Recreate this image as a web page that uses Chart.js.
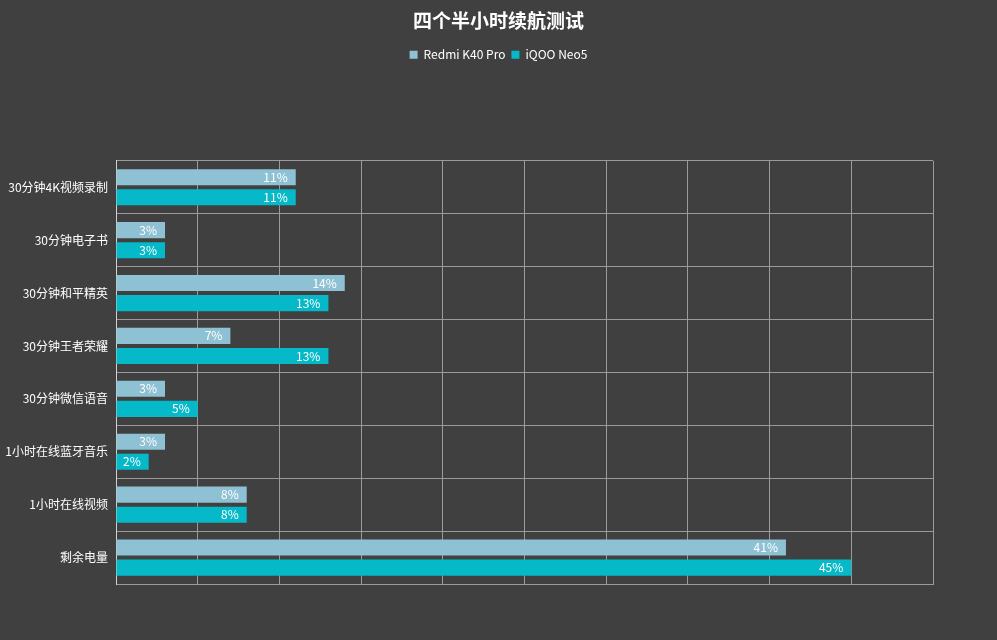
<!DOCTYPE html>
<html><head><meta charset="utf-8">
<script src="https://cdn.jsdelivr.net/npm/chart.js@4.4.0/dist/chart.umd.min.js"></script>
<style>html,body{margin:0;padding:0;background:#404040;}#wrap{width:997px;height:640px;}</style>
</head><body><div id="wrap"><canvas id="c"></canvas></div>
<script>
const categories = ["30分钟4K视频录制","30分钟电子书","30分钟和平精英","30分钟王者荣耀","30分钟微信语音","1小时在线蓝牙音乐","1小时在线视频","剩余电量"];
const redmiValues = [11,3,14,7,3,3,8,41];
const iqooValues = [11,3,13,13,5,2,8,45];
const seriesNames = ["Redmi K40 Pro","iQOO Neo5"];
const FONT = "'Noto Sans CJK SC','Noto Sans',sans-serif";

const valueLabels = {
  id:'valueLabels',
  afterDatasetsDraw(chart){
    const ctx = chart.ctx;
    ctx.save();
    ctx.font = "12px " + FONT;
    ctx.fillStyle = "#ffffff";
    ctx.textAlign = "right";
    ctx.textBaseline = "middle";
    chart.data.datasets.forEach((ds,i)=>{
      chart.getDatasetMeta(i).data.forEach((bar,j)=>{
        ctx.fillText(ds.data[j] + "%", bar.x - 8, bar.y);
      });
    });
    ctx.restore();
  }
};
const legendGap = {
  id:'legendGap',
  beforeInit(chart){
    const orig = chart.legend.fit;
    chart.legend.fit = function(){ orig.call(this); this.height += 90; };
  }
};
const bg = {
  id:'bg',
  beforeDraw(chart){ const c=chart.ctx; c.save(); c.fillStyle='#404040'; c.fillRect(0,0,chart.width,chart.height); c.restore(); }
};

new Chart(document.getElementById('c'), {
  type:'bar',
  data:{
    labels:categories,
    datasets:[
      {label:seriesNames[0], data:redmiValues, backgroundColor:'#8ec1d3', borderWidth:0, barPercentage:0.8, categoryPercentage:0.76},
      {label:seriesNames[1], data:iqooValues, backgroundColor:'#05b9c8', borderWidth:0, barPercentage:0.8, categoryPercentage:0.76}
    ]
  },
  options:{
    indexAxis:'y',
    responsive:true,
    maintainAspectRatio:false,
    animation:false,
    layout:{padding:{left:0,right:0,top:7,bottom:56}},
    plugins:{
      title:{display:true, text:'四个半小时续航测试', color:'#ffffff', font:{family:FONT, size:19, weight:'bold'}, padding:{top:2,bottom:11}},
      legend:{display:true, labels:{color:'#ffffff', boxWidth:8, boxHeight:8, padding:6, font:{family:FONT,size:12}}},
      tooltip:{enabled:false}
    },
    scales:{
      x:{min:0,max:50,
        ticks:{display:false,stepSize:5},
        grid:{color:'#9a9a9a', drawTicks:false, lineWidth:1},
        border:{color:'#9a9a9a'}
      },
      y:{
        ticks:{color:'#ffffff', padding:8, font:{family:FONT,size:12}},
        grid:{color:'#9a9a9a', drawTicks:false},
        border:{color:'#d0d0d0'},
        afterFit(s){ s.width = 116; }
      },
      yRightSpace:{
        type:'linear', position:'right', display:true,
        grid:{display:false, drawTicks:false}, border:{display:false},
        ticks:{display:false},
        afterFit(s){ s.width = 64; }
      }
    }
  },
  plugins:[bg, legendGap, valueLabels]
});
</script></body></html>
